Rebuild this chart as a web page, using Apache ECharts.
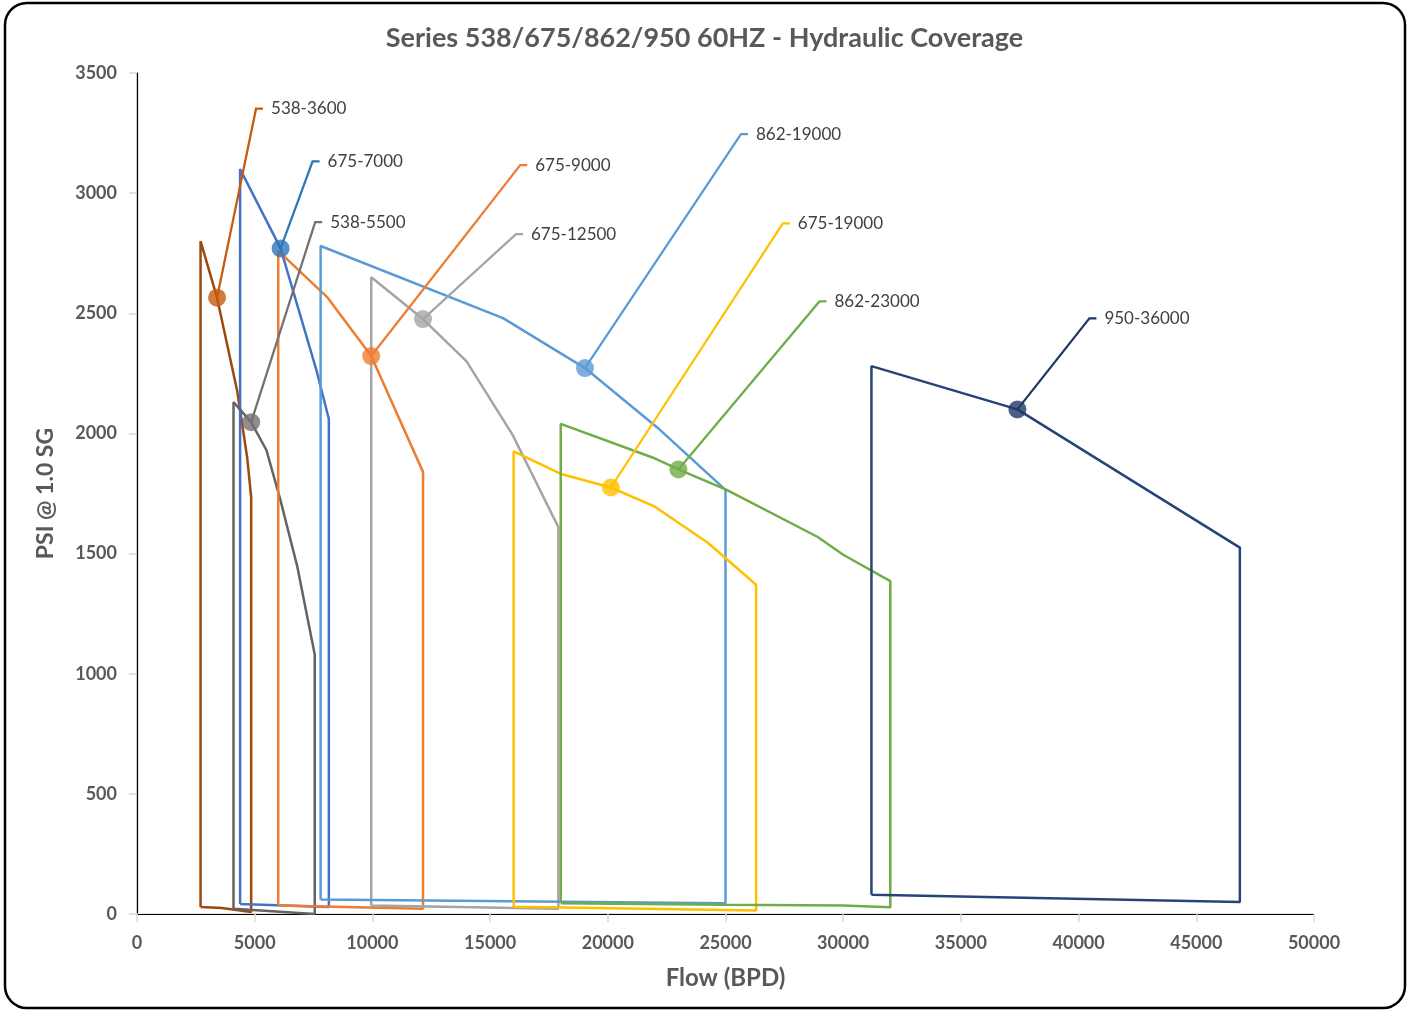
<!DOCTYPE html>
<html>
<head>
<meta charset="utf-8">
<title>Series 538/675/862/950 60HZ - Hydraulic Coverage</title>
<script src="https://cdn.jsdelivr.net/npm/echarts@6/dist/echarts.min.js"></script>
<style>
  html, body { margin: 0; padding: 0; background: #fff; }
  #chart { width: 1409px; height: 1011px; }
</style>
</head>
<body>
<div id="chart"></div>
<script>
// coverage outlines, [flow BPD, psi]
var names = ['538-3600', '675-7000', '538-5500', '675-9000', '675-12500',
  '862-19000', '675-19000', '862-23000', '950-36000'];

var c538_3600 = [[2700, 29], [2700, 2800], [3400, 2565], [4250, 2180], [4680, 1900],
  [4850, 1735], [4850, 8], [3600, 25], [2700, 29]];
var c675_7000 = [[4380, 42], [4380, 3100], [6100, 2770], [7630, 2260], [8150, 2060],
  [8150, 29], [4380, 42]];
var c538_5500 = [[4100, 22], [4100, 2130], [4850, 2047], [5500, 1930], [6100, 1720],
  [6800, 1450], [7550, 1080], [7550, 0], [4100, 22]];
var c675_9000 = [[6000, 35], [6000, 2760], [8100, 2565], [9950, 2322], [12150, 1840],
  [12150, 22], [6000, 35]];
var c675_12500 = [[9950, 35], [9950, 2650], [12150, 2476], [14000, 2300], [15950, 1995],
  [17900, 1610], [17900, 22], [9950, 35]];
var c862_19000 = [[7800, 60], [7800, 2780], [15550, 2480], [19030, 2272], [22100, 2025],
  [25000, 1765], [25000, 45], [7800, 60]];
var c675_19000 = [[16000, 30], [16000, 1925], [18050, 1830], [20130, 1775], [22000, 1695],
  [24250, 1545], [26300, 1370], [26300, 15], [16000, 30]];
var c862_23000 = [[18000, 45], [18000, 2040], [21900, 1900], [23000, 1850], [25050, 1765],
  [28900, 1570], [30000, 1495], [32000, 1385], [32000, 28], [30000, 35], [25000, 38], [18000, 45]];
var c950_36000 = [[31200, 80], [31200, 2280], [37400, 2100], [46850, 1525],
  [46850, 50], [31200, 80]];

var curves = [c538_3600, c675_7000, c538_5500, c675_9000, c675_12500,
  c862_19000, c675_19000, c862_23000, c950_36000];

// labelled rating points
var pointFlow = [3400, 6100, 4850, 9950, 12150, 19030, 20130, 23000, 37400];
var pointPsi = [2565, 2770, 2047, 2322, 2476, 2272, 1775, 1850, 2100];

// axes
var xMin = 0, xMax = 50000, xStep = 5000;
var yMin = 0, yMax = 3500, yStep = 500;

var lineColors = ['#9E480E', '#4472C4', '#636363', '#ED7D31', '#A5A5A5',
  '#5B9BD5', '#FFC000', '#70AD47', '#264478'];
var pointColors = ['#C55A11', '#2E75B6', '#757171', '#ED7D31', '#A5A5A5',
  '#5B9BD5', '#FFC000', '#70AD47', '#1F3864'];
// leader line elbow, pixels from the point
var labelOffsets = [[39, -189], [32, -87], [64, -200], [149, -191], [93, -85],
  [156, -234], [172, -264], [141, -168], [72, -91]];

var chart = echarts.init(document.getElementById('chart'));

var series = curves.map(function (c, i) {
  return {
    name: names[i],
    type: 'line',
    data: c,
    symbol: 'none',
    lineStyle: { color: lineColors[i], width: 2.5 },
    z: 2
  };
});

series.push({
  type: 'custom',
  data: pointFlow.map(function (x, i) { return [x, pointPsi[i]]; }),
  renderItem: function (params, api) {
    var i = params.dataIndex;
    var p = api.coord([api.value(0), api.value(1)]);
    var off = labelOffsets[i];
    var ex = p[0] + off[0], ey = p[1] + off[1];
    return {
      type: 'group',
      children: [{
        type: 'polyline',
        shape: { points: [p, [ex, ey], [ex + 7, ey]] },
        style: { stroke: pointColors[i], lineWidth: 2.25, fill: null }
      }, {
        type: 'text',
        style: {
          text: names[i], x: ex + 15, y: ey,
          verticalAlign: 'middle', fill: '#404040',
          font: '17px Lato'
        }
      }]
    };
  },
  z: 3
});

series.push({
  type: 'scatter',
  data: pointFlow.map(function (x, i) {
    return { value: [x, pointPsi[i]], itemStyle: { color: pointColors[i] } };
  }),
  symbolSize: 18,
  z: 4
});

var axisFont = { fontFamily: 'Lato', fontSize: 18, fontWeight: 'bold', color: '#595959' };

var option = {
  animation: false,
  backgroundColor: '#fff',
  title: {
    text: 'Series 538/675/862/950 60HZ - Hydraulic Coverage',
    left: 'center',
    top: 20,
    textStyle: { fontFamily: 'Lato', fontSize: 27, fontWeight: 'bold', color: '#595959' }
  },
  graphic: [{
    type: 'rect',
    shape: { x: 5, y: 3, width: 1400, height: 1005, r: 22 },
    style: { fill: null, stroke: '#000', lineWidth: 2.5 },
    silent: true
  }],
  grid: { left: 137, right: 95, top: 73, bottom: 97 },
  xAxis: [{
    type: 'value',
    min: xMin, max: xMax, interval: xStep,
    name: 'Flow (BPD)',
    nameLocation: 'middle',
    nameGap: 52,
    nameTextStyle: { fontFamily: 'Lato', fontSize: 24, fontWeight: 'bold', color: '#595959' },
    axisLine: { lineStyle: { color: '#D9D9D9', width: 1.5 } },
    axisTick: { show: true, length: 8, lineStyle: { color: '#D9D9D9', width: 1.5 } },
    axisLabel: Object.assign({ margin: 20, formatter: function (v) { return String(v); } }, axisFont),
    splitLine: { show: false }
  }, {
    type: 'value',
    position: 'top',
    min: xMin, max: xMax,
    axisLine: { show: true, lineStyle: { color: '#000', width: 1.2 } },
    axisTick: { show: false },
    axisLabel: { show: false },
    splitLine: { show: false }
  }],
  yAxis: [{
    type: 'value',
    min: yMin, max: yMax, interval: yStep,
    name: 'PSI @ 1.0 SG',
    nameLocation: 'middle',
    nameGap: 80,
    nameTextStyle: { fontFamily: 'Lato', fontSize: 23, fontWeight: 'bold', color: '#595959' },
    axisLine: { show: true, lineStyle: { color: '#D9D9D9', width: 1.5 } },
    axisTick: { show: true, length: 8, lineStyle: { color: '#D9D9D9', width: 1.5 } },
    axisLabel: Object.assign({ margin: 20, formatter: function (v) { return String(v); } }, axisFont),
    splitLine: { show: false }
  }, {
    type: 'value',
    position: 'right',
    min: yMin, max: yMax,
    axisLine: { show: true, lineStyle: { color: '#000', width: 1.2 } },
    axisTick: { show: false },
    axisLabel: { show: false },
    splitLine: { show: false }
  }],
  series: series
};

chart.setOption(option);
</script>
</body>
</html>
